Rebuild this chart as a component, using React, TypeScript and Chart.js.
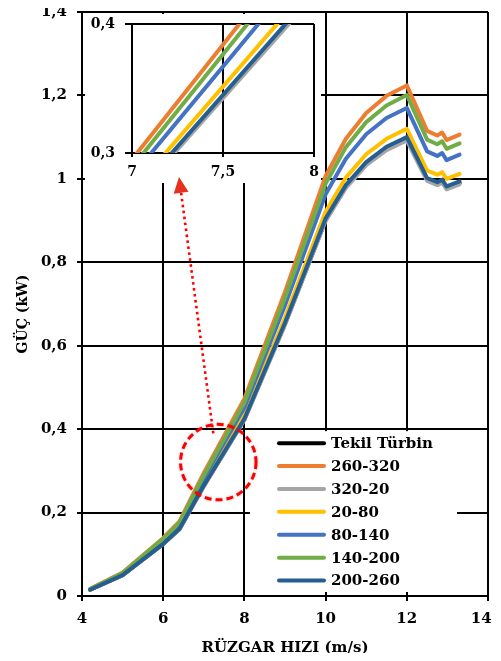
import React, { useEffect, useRef } from 'react';
import { Chart, registerables } from 'chart.js';

Chart.register(...registerables);

// ---- data ----
const windSpeed = [4.2, 5, 6, 6.4, 7, 8, 9, 10, 10.5, 11, 11.5, 12, 12.5, 12.75, 12.87, 12.98, 13.3];

const tekilTurbin = [0.015, 0.05, 0.125, 0.16, 0.264, 0.423, 0.652, 0.901, 0.981, 1.036, 1.073, 1.096, 0.998, 0.988, 0.994, 0.978, 0.99];
const s260_320 = [0.017, 0.056, 0.139, 0.179, 0.295, 0.473, 0.729, 1.007, 1.096, 1.158, 1.199, 1.224, 1.115, 1.104, 1.111, 1.093, 1.106];
const s320_20 = [0.015, 0.05, 0.124, 0.16, 0.263, 0.422, 0.65, 0.899, 0.978, 1.033, 1.069, 1.092, 0.995, 0.985, 0.991, 0.975, 0.987];
const s20_80 = [0.015, 0.051, 0.127, 0.164, 0.27, 0.433, 0.667, 0.921, 1.003, 1.059, 1.096, 1.12, 1.02, 1.01, 1.016, 1.0, 1.012];
const s80_140 = [0.016, 0.053, 0.133, 0.171, 0.282, 0.452, 0.697, 0.963, 1.048, 1.107, 1.146, 1.17, 1.066, 1.055, 1.062, 1.045, 1.058];
const s140_200 = [0.016, 0.055, 0.137, 0.176, 0.289, 0.464, 0.715, 0.988, 1.076, 1.136, 1.176, 1.201, 1.094, 1.083, 1.09, 1.072, 1.085];
const s200_260 = [0.015, 0.05, 0.125, 0.161, 0.265, 0.425, 0.655, 0.905, 0.985, 1.04, 1.077, 1.1, 1.002, 0.992, 0.998, 0.982, 0.994];

const seriesLabels = ['Tekil Türbin', '260-320', '320-20', '20-80', '80-140', '140-200', '200-260'];
const seriesValues = [tekilTurbin, s260_320, s320_20, s20_80, s80_140, s140_200, s200_260];
const seriesColors = ['#000000', '#ED7D31', '#A5A5A5', '#FFC000', '#4472C4', '#70AD47', '#255E91'];

const xTickLabels = ['4', '6', '8', '10', '12', '14'];
const yTickLabels = ['0', '0,2', '0,4', '0,6', '0,8', '1', '1,2', '1,4'];
const insetXTickLabels = ['7', '7,5', '8'];
const insetYTickLabels = ['0,3', '0,4'];

const xTitle = 'RÜZGAR HIZI (m/s)';
const yTitle = 'GÜÇ (kW)';

// annotation anchors (data coordinates)
const circleCenter = { x: 7.357, y: 0.321 };
const circleRadiusX = 0.93;
const arrowTail = { x: 7.234, y: 0.39 };
const arrowTip = { x: 6.389, y: 1.0045 };

const SERIF = "'DejaVu Serif', 'Liberation Serif', serif";

function buildDatasets(clip?: number) {
  return seriesLabels.map((label, i) => {
    const ds: any = {
      label,
      data: windSpeed.map((x, j) => ({ x, y: seriesValues[i][j] })),
      borderColor: seriesColors[i],
      backgroundColor: seriesColors[i],
      borderWidth: 4,
      pointRadius: 0,
      pointHoverRadius: 0,
      fill: false,
      tension: 0,
      borderJoinStyle: 'round',
      borderCapStyle: 'round',
      order: seriesLabels.length - 1 - i,
    };
    if (clip !== undefined) ds.clip = clip;
    return ds;
  });
}

const insideLegend = {
  id: 'insideLegend',
  beforeDatasetsDraw(chart: any) {
    const { ctx, chartArea } = chart;
    const yS = chart.scales.y;
    const left = chartArea.right - 238;
    const right = chartArea.right - 31;
    const top = yS.getPixelForValue(0.4) + 2;
    const bottom = chartArea.bottom - 4;
    ctx.save();
    ctx.fillStyle = '#ffffff';
    ctx.fillRect(left, top, right - left, bottom - top);
    ctx.font = `bold 15px ${SERIF}`;
    ctx.textBaseline = 'middle';
    ctx.textAlign = 'left';
    seriesLabels.forEach((label, i) => {
      const yy = top + 12 + i * 22.9;
      ctx.strokeStyle = seriesColors[i];
      ctx.lineWidth = 4;
      ctx.lineCap = 'round';
      ctx.beginPath();
      ctx.moveTo(left + 29, yy);
      ctx.lineTo(left + 74, yy);
      ctx.stroke();
      ctx.fillStyle = '#000000';
      ctx.fillText(label, left + 81, yy + 1);
    });
    ctx.restore();
  },
  afterDraw(chart: any) {
    const { ctx, chartArea } = chart;
    ctx.save();
    ctx.translate(23, (chartArea.top + chartArea.bottom) / 2 + 10);
    ctx.rotate(-Math.PI / 2);
    ctx.font = `bold 14px ${SERIF}`;
    ctx.fillStyle = '#000000';
    ctx.textAlign = 'center';
    ctx.textBaseline = 'middle';
    ctx.fillText(yTitle, 0, 0);
    ctx.restore();
  },
};

export default function App() {
  const mainRef = useRef<HTMLCanvasElement>(null);
  const insetRef = useRef<HTMLCanvasElement>(null);
  const overlayRef = useRef<HTMLCanvasElement>(null);

  useEffect(() => {
    if (!mainRef.current || !insetRef.current || !overlayRef.current) return;

    const main = new Chart(mainRef.current, {
      type: 'line',
      data: { datasets: buildDatasets() },
      options: {
        responsive: false,
        animation: false,
        layout: { padding: { top: 12, right: 13, left: 0, bottom: 0 } },
        plugins: { legend: { display: false }, tooltip: { enabled: false } },
        scales: {
          x: {
            type: 'linear',
            min: 4,
            max: 14,
            ticks: {
              stepSize: 2,
              autoSkip: false,
              maxRotation: 0,
              padding: 9,
              color: '#000',
              font: { family: SERIF, size: 15, weight: 'bold' },
              // last label nudged left (trailing figure space) so it stays inside the visible page
              callback: (_v: any, i: number) =>
                i === xTickLabels.length - 1 ? xTickLabels[i] + '\u2007\u2009' : xTickLabels[i],
            },
            grid: { color: '#000', lineWidth: 2, tickLength: 5 },
            border: { color: '#000', width: 2 },
            title: {
              display: true,
              text: xTitle,
              color: '#000',
              font: { family: SERIF, size: 15, weight: 'bold' },
              padding: { top: 0, bottom: 4 },
            },
            afterFit: (s: any) => { s.height = 65; s.paddingLeft = 0; s.paddingRight = 0; },
          },
          y: {
            type: 'linear',
            min: 0,
            max: 1.4,
            ticks: {
              stepSize: 0.2,
              autoSkip: false,
              padding: 10,
              color: '#000',
              font: { family: SERIF, size: 15, weight: 'bold' },
              callback: (_v: any, i: number) => yTickLabels[i],
            },
            grid: { color: '#000', lineWidth: 2, tickLength: 5 },
            border: { color: '#000', width: 2 },
            afterFit: (s: any) => { s.width = 82; s.paddingTop = 0; s.paddingBottom = 0; },
          },
        },
      } as any,
      plugins: [insideLegend],
    });

    const inset = new Chart(insetRef.current, {
      type: 'line',
      data: { datasets: buildDatasets(0) },
      options: {
        responsive: false,
        animation: false,
        layout: { padding: { top: 10, right: 7, left: 0, bottom: 0 } },
        plugins: { legend: { display: false }, tooltip: { enabled: false } },
        scales: {
          x: {
            type: 'linear',
            min: 7,
            max: 8,
            ticks: {
              stepSize: 0.5,
              autoSkip: false,
              maxRotation: 0,
              padding: 7,
              color: '#000',
              font: { family: SERIF, size: 14, weight: 'bold' },
              callback: (_v: any, i: number) => insetXTickLabels[i],
            },
            grid: { color: '#000', lineWidth: 2, tickLength: 4 },
            border: { color: '#000', width: 2 },
            afterFit: (s: any) => { s.height = 30; s.paddingLeft = 0; s.paddingRight = 0; },
          },
          y: {
            type: 'linear',
            min: 0.3,
            max: 0.4,
            ticks: {
              stepSize: 0.1,
              autoSkip: false,
              padding: 10,
              color: '#000',
              font: { family: SERIF, size: 14, weight: 'bold' },
              callback: (_v: any, i: number) => insetYTickLabels[i],
            },
            grid: { color: '#000', lineWidth: 2, tickLength: 7 },
            border: { color: '#000', width: 2 },
            afterFit: (s: any) => { s.width = 47; s.paddingTop = 0; s.paddingBottom = 0; },
          },
        },
      } as any,
    });

    // annotations (circle + dotted arrow) on top of everything, through main scales
    const octx = overlayRef.current.getContext('2d')!;
    octx.clearRect(0, 0, overlayRef.current.width, overlayRef.current.height);
    const xs: any = main.scales.x;
    const ys: any = main.scales.y;
    const cx = xs.getPixelForValue(circleCenter.x);
    const cy = ys.getPixelForValue(circleCenter.y);
    const r = xs.getPixelForValue(circleCenter.x + circleRadiusX) - cx;
    octx.save();
    octx.shadowColor = 'rgba(0,0,0,0.25)';
    octx.shadowBlur = 3;
    octx.strokeStyle = '#FF0000';
    octx.lineWidth = 3;
    octx.setLineDash([7, 4]);
    octx.beginPath();
    octx.arc(cx, cy, r, 0, Math.PI * 2);
    octx.stroke();
    octx.restore();

    const tx = xs.getPixelForValue(arrowTail.x);
    const ty = ys.getPixelForValue(arrowTail.y);
    const hx = xs.getPixelForValue(arrowTip.x);
    const hy = ys.getPixelForValue(arrowTip.y);
    const len = Math.hypot(hx - tx, hy - ty);
    const ux = (hx - tx) / len;
    const uy = (hy - ty) / len;
    const headLen = 16;
    const headHalf = 7.5;
    const bx = hx - ux * headLen;
    const by = hy - uy * headLen;
    octx.save();
    octx.strokeStyle = '#FF0000';
    octx.lineWidth = 2.6;
    octx.setLineDash([2.6, 3.4]);
    octx.beginPath();
    octx.moveTo(tx, ty);
    octx.lineTo(bx, by);
    octx.stroke();
    octx.setLineDash([]);
    octx.fillStyle = '#E5321E';
    octx.beginPath();
    octx.moveTo(hx, hy);
    octx.lineTo(bx - uy * headHalf, by + ux * headHalf);
    octx.lineTo(bx + uy * headHalf, by - ux * headHalf);
    octx.closePath();
    octx.fill();
    octx.restore();

    return () => {
      main.destroy();
      inset.destroy();
    };
  }, []);

  return (
    <div style={{ position: 'relative', width: 501, height: 661, margin: -8 }}>
      <canvas ref={mainRef} width={501} height={661} style={{ position: 'absolute', left: 0, top: 0, display: 'block' }} />
      <canvas ref={insetRef} width={236} height={169} style={{ position: 'absolute', left: 85, top: 14, display: 'block', background: '#ffffff' }} />
      <canvas ref={overlayRef} width={501} height={661} style={{ position: 'absolute', left: 0, top: 0, display: 'block', pointerEvents: 'none' }} />
    </div>
  );
}
